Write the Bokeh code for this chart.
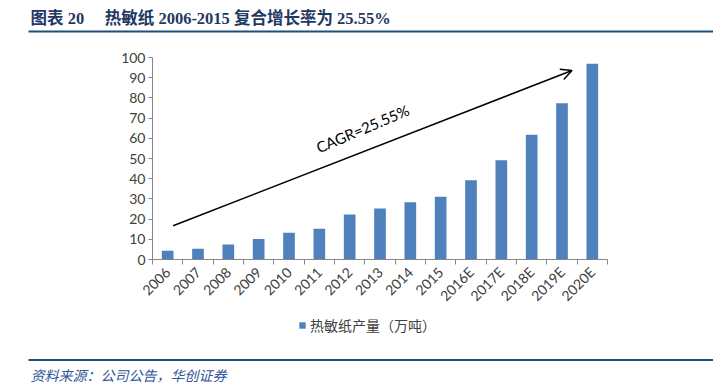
import math
from bokeh.plotting import figure
from bokeh.models import Range1d, LinearAxis, FixedTicker, Label, Arrow, OpenHead, Legend, LegendItem
from bokeh.core.properties import value
from bokeh.embed import file_html
from bokeh.resources import INLINE

# ---- data ----
categories = ["2006", "2007", "2008", "2009", "2010", "2011", "2012", "2013",
              "2014", "2015", "2016E", "2017E", "2018E", "2019E", "2020E"]
values = [4.3, 5.3, 7.4, 10.1, 13.2, 15.2, 22.3, 25.3, 28.3, 31.1,
          39.2, 49.1, 61.7, 77.4, 96.9]
y_ticks = [0, 10, 20, 30, 40, 50, 60, 70, 80, 90, 100]
series_name = "热敏纸产量（万吨）"
title_text = "图表 20\u00a0\u00a0\u00a0\u00a0\u00a0热敏纸 2006-2015 复合增长率为 25.55%"
source_text = "资料来源：公司公告，华创证券"
cagr_text = "CAGR=25.55%"

# ---- layout (page pixels) ----
W, H = 713, 386
PL_X0, PL_X1 = 152, 607     # plot area left/right on page
PL_Y0, PL_Y1 = 259, 57      # value 0 / value 100 on page
n = len(categories)
YMAX = 100
centers = [i + 0.5 for i in range(n)]
boundaries = [float(i) for i in range(n + 1)]

sx = (PL_X1 - PL_X0) / n
sy = (PL_Y0 - PL_Y1) / YMAX

AX = "#868686"
TXT = "#404040"
BAR = "#4F81BD"
NAVY = "#1F4E79"

p = figure(width=W, height=H, output_backend="svg", toolbar_location=None,
           x_range=Range1d(-PL_X0 / sx, n + (W - PL_X1) / sx),
           y_range=Range1d(-(H - PL_Y0) / sy, PL_Y0 / sy),
           min_border=0, x_axis_type=None, y_axis_type=None)
p.outline_line_color = None
p.xgrid.visible = False
p.ygrid.visible = False
p.background_fill_color = "white"
p.border_fill_color = "white"
# page-pixel helper ranges
p.extra_x_ranges = {"px": Range1d(0, W)}
p.extra_y_ranges = {"py": Range1d(H, 0)}

xaxis = LinearAxis(ticker=FixedTicker(ticks=centers, minor_ticks=boundaries),
                   major_label_overrides={c: cat for c, cat in zip(centers, categories)},
                   bounds=(0, n), fixed_location=0)
xaxis.major_tick_line_color = None
xaxis.minor_tick_in = 0
xaxis.minor_tick_out = 5
xaxis.minor_tick_line_color = AX
xaxis.axis_line_color = AX
xaxis.major_label_orientation = math.pi / 4
xaxis.major_label_text_font = "Lato"
xaxis.major_label_text_font_size = "14px"
xaxis.major_label_text_color = TXT
xaxis.major_label_standoff = 4
p.add_layout(xaxis, "below")

yaxis = LinearAxis(ticker=FixedTicker(ticks=y_ticks, minor_ticks=[]),
                   bounds=(0, YMAX), fixed_location=0)
yaxis.axis_line_color = AX
yaxis.major_tick_line_color = AX
yaxis.major_tick_in = 0
yaxis.major_tick_out = 4
yaxis.minor_tick_line_color = None
yaxis.major_label_text_font = "Lato"
yaxis.major_label_text_font_size = "14px"
yaxis.major_label_text_color = TXT
yaxis.major_label_standoff = 3
p.add_layout(yaxis, "left")

bars = p.vbar(x=centers, top=values, width=0.385, fill_color=BAR, line_color=None)

leg = Legend(items=[LegendItem(label=series_name, renderers=[bars])])
leg.location = (298, 51)
leg.orientation = "horizontal"
leg.glyph_width = 8
leg.glyph_height = 8
leg.label_height = 16
leg.label_standoff = 4
leg.padding = 0
leg.margin = 0
leg.border_line_color = None
leg.background_fill_alpha = 0
leg.label_text_font = "Noto Sans CJK SC"
leg.label_text_font_size = "14px"
leg.label_text_color = TXT
p.add_layout(leg, "center")

# CAGR arrow and text
p.add_layout(Arrow(end=OpenHead(size=11, line_width=1.5, line_color="black"),
                   x_start=0.68, y_start=16.7, x_end=13.83, y_end=93.6,
                   line_width=1.5, line_color="black"))
p.add_layout(Label(x=362, y=128, x_range_name="px", y_range_name="py", text=cagr_text,
                   angle=23, angle_units="deg", text_align="center", text_baseline="middle",
                   text_font="Lato", text_font_size="15px", text_color="black"))

# title, rules and source (page coordinates)
p.text(x=[30], y=[17.5], text=[title_text], x_range_name="px", y_range_name="py",
       text_align="left", text_baseline="middle",
       text_font=value("Liberation Serif, Noto Sans CJK SC"), text_font_style="bold",
       text_font_size="16.5px", text_color="#1F3864")
p.segment(x0=[28, 28], y0=[31, 359.5], x1=[W, W], y1=[31, 359.5],
          x_range_name="px", y_range_name="py", line_color=NAVY, line_width=2)
p.text(x=[30], y=[374], text=[source_text], x_range_name="px", y_range_name="py",
       text_align="left", text_baseline="middle",
       text_font=value("Noto Sans CJK SC"), text_font_style="italic",
       text_font_size="14px", text_color="#2F5597")

open("out.html", "w").write(file_html(p, INLINE))
